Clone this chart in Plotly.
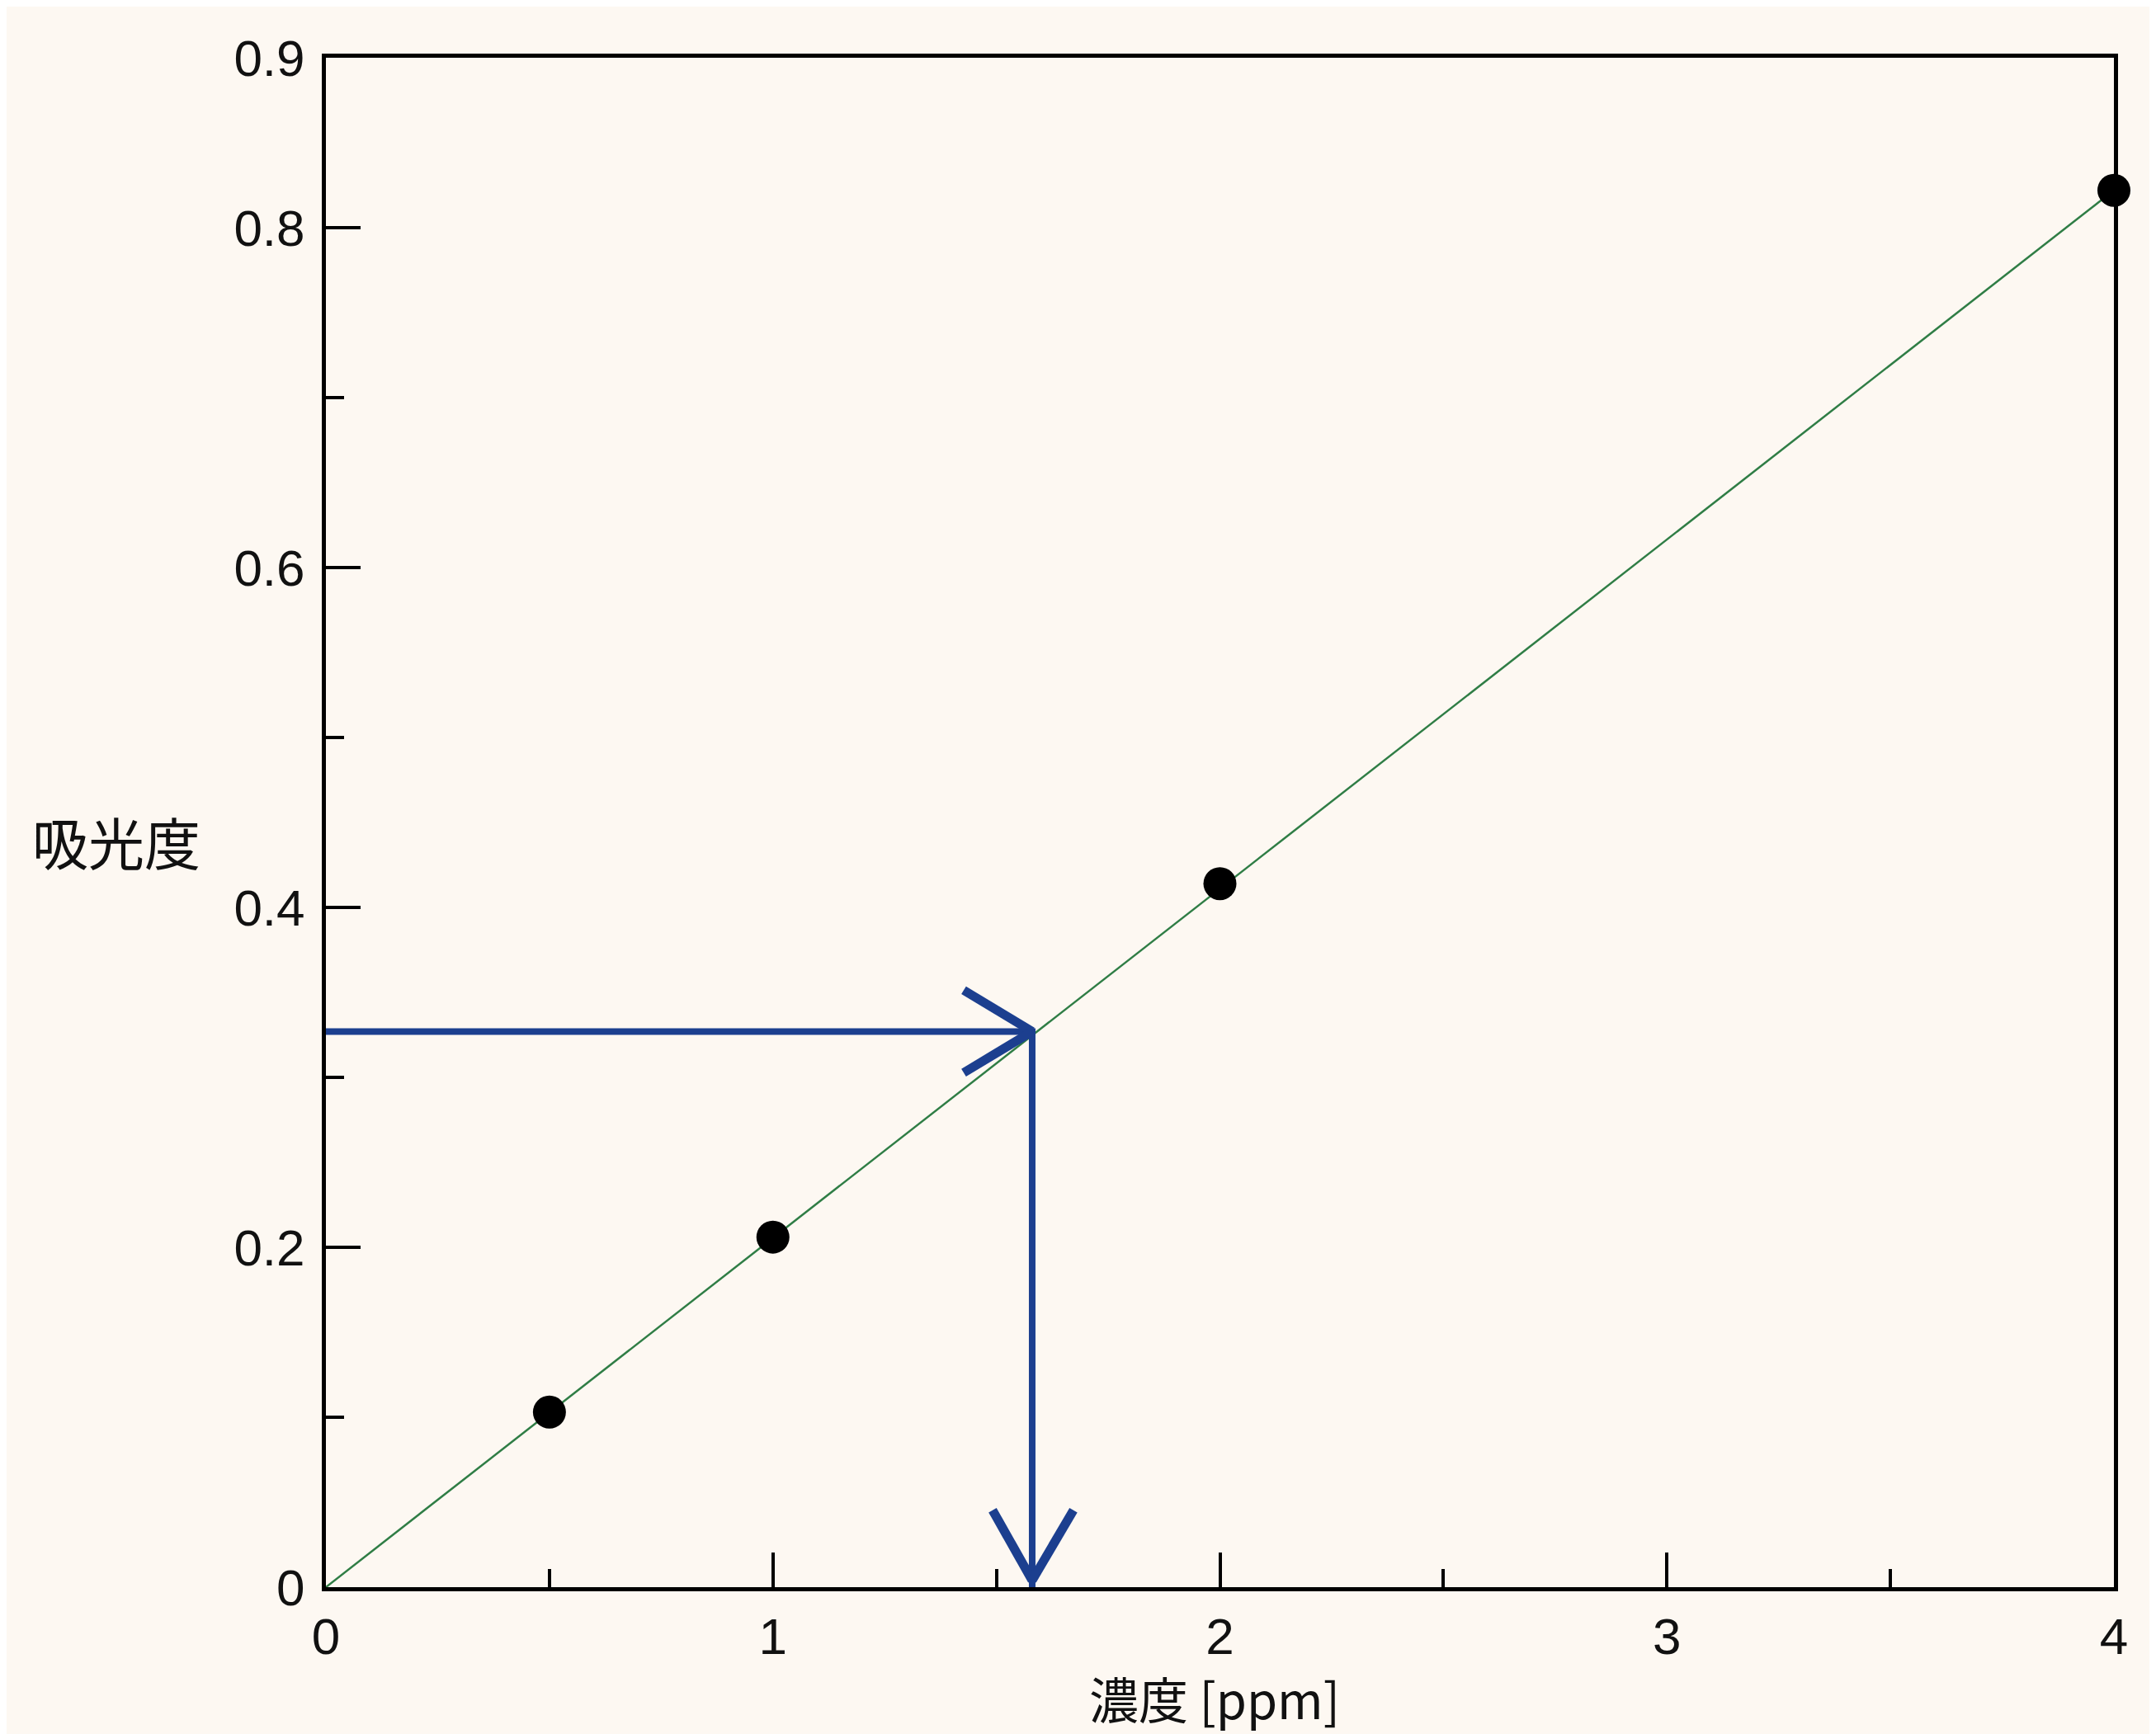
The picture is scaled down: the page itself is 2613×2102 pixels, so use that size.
import plotly.graph_objects as go

# calibration data
conc = [0.5, 1.0, 2.0, 4.0]
absorb = [0.103, 0.206, 0.414, 0.822]

# fitted line through the origin
fit_x = [0.0, 4.0]
fit_y = [0.0, 0.822]

# reading for the unknown sample
sample_x = 1.58
sample_y = 0.327

x_ticks = [0, 1, 2, 3, 4]
x_minor = [0.5, 1.5, 2.5, 3.5]
y_ticks = [0, 0.2, 0.4, 0.6, 0.8, 0.9]
y_labels = ["0", "0.2", "0.4", "0.6", "0.8", "0.9"]
y_minor = [0.1, 0.3, 0.5, 0.7]

# page has an 8px body margin, so the figure is shrunk by that much
W, H = 2605, 2094
ml, mr, mt, mb = 387, 51, 62, 178

bg = "#fdf8f2"
blue = "#1c3f8f"
tickfont = dict(family="Liberation Sans Narrow, Arial Narrow, Liberation Sans, Arial", size=62, color="#111")
cjk = "Noto Sans CJK JP"

fig = go.Figure()

fig.add_trace(go.Scatter(x=fit_x, y=fit_y, mode="lines",
                         line=dict(color="#2f7d45", width=2.5), hoverinfo="skip"))
fig.add_trace(go.Scatter(x=conc, y=absorb, mode="markers",
                         marker=dict(color="black", size=40, symbol="circle"), cliponaxis=False))

# arrows: horizontal from y axis to the line, vertical from line down to x axis
fig.add_trace(go.Scatter(x=[0, sample_x, sample_x], y=[sample_y, sample_y, 0], mode="lines",
                         line=dict(color=blue, width=8), hoverinfo="skip"))

shapes = []
# open arrow heads, arm offsets in pixels anchored at the tips
for dx, dy in [(-83, 50), (-83, -50)]:
    shapes.append(dict(type="line", xref="x", yref="y", xsizemode="pixel", ysizemode="pixel",
                       xanchor=sample_x, yanchor=sample_y, x0=0, y0=0, x1=dx, y1=dy,
                       line=dict(color=blue, width=11)))
for dx, dy in [(-48, 85), (50, 85)]:
    shapes.append(dict(type="line", xref="x", yref="y", xsizemode="pixel", ysizemode="pixel",
                       xanchor=sample_x, yanchor=0.004, x0=0, y0=0, x1=dx, y1=dy,
                       line=dict(color=blue, width=11)))

fig.update_layout(
    width=W, height=H,
    margin=dict(l=ml, r=mr, t=mt, b=mb, autoexpand=False),
    paper_bgcolor=bg, plot_bgcolor=bg,
    showlegend=False,
    shapes=shapes,
    annotations=[
        dict(text="吸光度", xref="paper", yref="paper", x=-0.117, y=0.488,
             xanchor="center", yanchor="middle",
             showarrow=False, font=dict(family=cjk, size=68, color="#111")),
        dict(text="濃度 [ppm]", xref="paper", yref="paper", x=0.497, y=-0.072,
             xanchor="center", yanchor="middle",
             showarrow=False, font=dict(family=cjk, size=60, color="#111")),
    ],
)

fig.update_xaxes(range=[0, 4], tickvals=x_ticks, ticks="inside", ticklen=42, tickwidth=4,
                 tickcolor="black", showline=True, linecolor="black", linewidth=5, mirror=True,
                 showgrid=False, zeroline=False, tickfont=tickfont, ticklabelstandoff=2,
                 automargin=False,
                 minor=dict(tickvals=x_minor, ticks="inside", ticklen=22, tickwidth=4, tickcolor="black"))
fig.update_yaxes(range=[0, 0.9], tickvals=y_ticks, ticktext=y_labels, ticks="inside", ticklen=42,
                 tickwidth=4, tickcolor="black", showline=True, linecolor="black", linewidth=5,
                 mirror=True, showgrid=False, zeroline=False, tickfont=tickfont, ticklabelstandoff=8,
                 automargin=False,
                 minor=dict(tickvals=y_minor, ticks="inside", ticklen=22, tickwidth=4, tickcolor="black"))

fig.write_html("out.html")
